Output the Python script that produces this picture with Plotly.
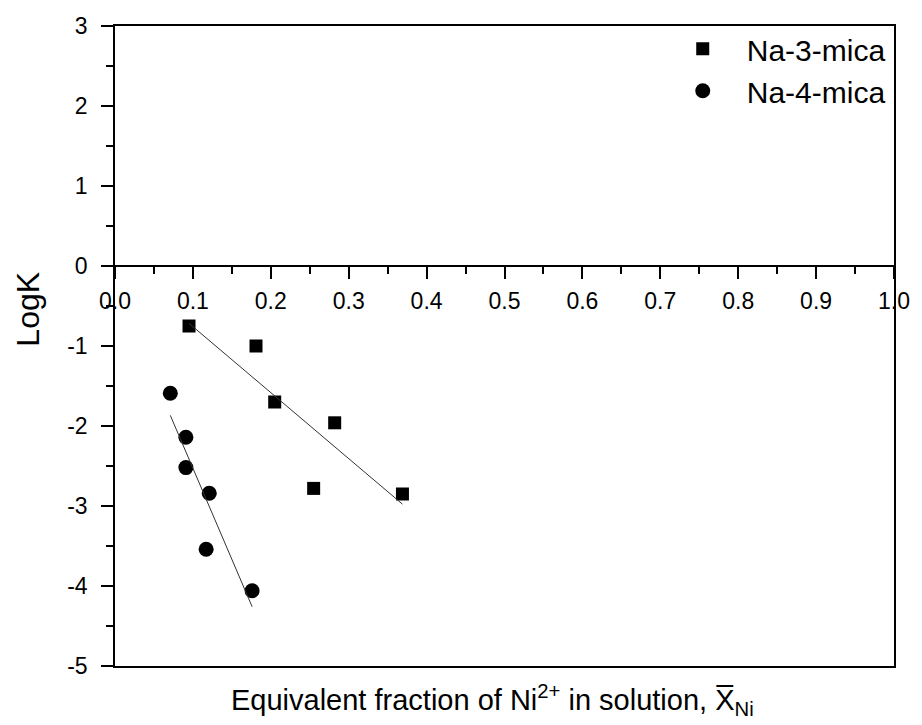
import numpy as np
import plotly.graph_objects as go

# Equivalent fraction of Ni2+ in solution and log K for each mica
na3_x = [0.095, 0.181, 0.205, 0.255, 0.282, 0.369]
na3_logk = [-0.75, -1.00, -1.70, -2.78, -1.96, -2.85]

na4_x = [0.071, 0.091, 0.091, 0.121, 0.117, 0.176]
na4_logk = [-1.59, -2.14, -2.52, -2.84, -3.54, -4.06]

series_names = ["Na-3-mica", "Na-4-mica"]

# y tick labels written with a plain hyphen
y_tickvals = [-5, -4, -3, -2, -1, 0, 1, 2, 3]
y_ticktext = ["-5", "-4", "-3", "-2", "-1", "0", "1", "2", "3"]

FONT = "Liberation Sans, Arial, sans-serif"


def linear_fit(x, y):
    """Least-squares line spanning the data range."""
    slope, intercept = np.polyfit(x, y, 1)
    xs = np.array([min(x), max(x)])
    return xs, slope * xs + intercept


fig = go.Figure()

fig.add_trace(go.Scatter(
    x=na3_x, y=na3_logk, mode="markers", name=series_names[0],
    marker=dict(symbol="square", size=13, color="black"),
))
fig.add_trace(go.Scatter(
    x=na4_x, y=na4_logk, mode="markers", name=series_names[1],
    marker=dict(symbol="circle", size=15, color="black"),
))

for xs, ys in (linear_fit(na3_x, na3_logk), linear_fit(na4_x, na4_logk)):
    fig.add_trace(go.Scatter(
        x=xs, y=ys, mode="lines", showlegend=False, hoverinfo="skip",
        line=dict(color="#333333", width=1),
    ))

# placeholder trace so the crossing x axis is drawn
fig.add_trace(go.Scatter(x=[None], y=[None], xaxis="x2", showlegend=False,
                         hoverinfo="skip"))

y_min, y_max = -5, 3
zero_pos = (0 - y_min) / (y_max - y_min)

fig.update_layout(
    width=922, height=725,
    margin=dict(l=115, r=22, t=26, b=59),
    paper_bgcolor="white", plot_bgcolor="white",
    font=dict(family=FONT, color="black"),
    showlegend=True,
    legend=dict(
        x=0.698, y=1.005, xanchor="left", yanchor="top",
        font=dict(size=30, family=FONT), itemwidth=78,
        bgcolor="rgba(0,0,0,0)",
    ),
    xaxis=dict(
        range=[0, 1], showline=True, mirror=True, linecolor="black",
        linewidth=1.5, ticks="", showticklabels=False, showgrid=False,
        zeroline=False,
    ),
    xaxis2=dict(
        range=[0, 1], overlaying="x", anchor="free", position=zero_pos,
        side="bottom",
        showline=True, linecolor="black", linewidth=1.5,
        ticks="outside", ticklen=12, tickwidth=1.5, tickcolor="black",
        dtick=0.1, tick0=0, tickformat=".1f",
        minor=dict(ticks="outside", ticklen=7, tickwidth=1.5,
                   tickcolor="black", dtick=0.05),
        tickfont=dict(size=23, family=FONT), ticklabelstandoff=3,
        showgrid=False, zeroline=False,
    ),
    yaxis=dict(
        range=[y_min, y_max], showline=True, mirror=True, linecolor="black",
        linewidth=1.5, ticks="outside", ticklen=12, tickwidth=1.5,
        tickcolor="black", tickmode="array", tickvals=y_tickvals,
        ticktext=y_ticktext,
        minor=dict(ticks="outside", ticklen=7, tickwidth=1.5,
                   tickcolor="black", dtick=0.5, tick0=0),
        tickfont=dict(size=23, family=FONT), ticklabelstandoff=9,
        showgrid=False, zeroline=False,
    ),
)

fig.add_annotation(
    text="LogK", xref="paper", yref="paper", x=-0.112, y=0.558,
    xanchor="center", yanchor="middle", textangle=-90, showarrow=False,
    font=dict(size=32, family=FONT),
)
fig.add_annotation(
    text="Equivalent fraction of Ni<sup>2+</sup> in solution, X\u0305<sub>Ni</sub>",
    xref="paper", yref="paper", x=0.485, y=-0.053,
    xanchor="center", yanchor="middle", showarrow=False,
    font=dict(size=29, family=FONT),
)

fig.write_html("out.html")
